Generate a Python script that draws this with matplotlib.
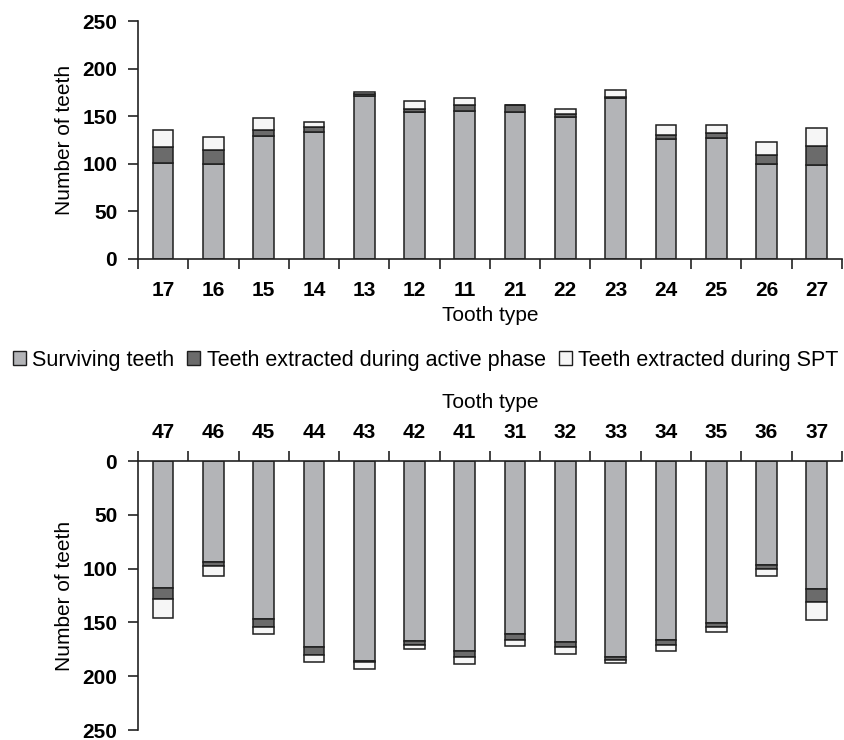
from matplotlib import pyplot as plt
from matplotlib.patches import Patch
import numpy as np

plt.rcParams['font.family'] = ['Liberation Sans', 'DejaVu Sans']

# maxilla (upper jaw)
upper_teeth = ['17', '16', '15', '14', '13', '12', '11', '21', '22', '23', '24', '25', '26', '27']
upper_surviving = [101, 100, 129, 133, 171, 154, 155, 154, 149, 169, 126, 127, 100, 99]
upper_active = [17, 14, 7, 6, 2, 4, 7, 8, 3, 1, 4, 5, 9, 20]
upper_spt = [17, 14, 12, 5, 2, 8, 7, 0, 6, 8, 11, 9, 14, 19]

# mandible (lower jaw)
lower_teeth = ['47', '46', '45', '44', '43', '42', '41', '31', '32', '33', '34', '35', '36', '37']
lower_surviving = [118, 94, 147, 173, 186, 167, 177, 161, 168, 182, 166, 151, 97, 119]
lower_active = [10, 4, 7, 7, 1, 4, 5, 5, 5, 3, 5, 3, 3, 12]
lower_spt = [18, 9, 7, 7, 6, 4, 7, 6, 6, 3, 6, 5, 7, 17]

series_names = ['Surviving teeth', 'Teeth extracted during active phase', 'Teeth extracted during SPT']
colores = ['#b3b4b7', '#6b6b6b', '#f6f6f6']
borde = '#1e1e1e'


def stacked(ax, teeth, surv, act, spt, xpad, lpad):
    x = np.arange(len(teeth))
    surv = np.array(surv)
    act = np.array(act)
    spt = np.array(spt)
    kw = dict(width=0.41, edgecolor=borde, linewidth=1.1)
    ax.bar(x, surv, color=colores[0], **kw)
    ax.bar(x, act, bottom=surv, color=colores[1], **kw)
    ax.bar(x, spt, bottom=surv + act, color=colores[2], **kw)
    ax.set_xlim(-0.5, len(teeth) - 0.5)
    ax.set_ylim(0, 250)
    ax.set_yticks([0, 50, 100, 150, 200, 250])
    ax.set_xticks(x)
    ax.set_xticklabels(teeth, fontsize=15, fontweight='bold')
    ax.set_xticks(np.arange(len(teeth) + 1) - 0.5, minor=True)
    ax.tick_params(axis='x', which='major', length=0, pad=xpad)
    ax.tick_params(axis='x', which='minor', length=7, width=1.2, color='#222222')
    ax.tick_params(axis='y', length=7, width=1.2, color='#222222', pad=8)
    for lbl in ax.get_yticklabels():
        lbl.set_fontsize(15)
        lbl.set_fontweight('bold')
    ax.spines['right'].set_visible(False)
    for s in ['left', 'bottom', 'top']:
        ax.spines[s].set_linewidth(1.2)
        ax.spines[s].set_color('#222222')
    ax.set_ylabel('Number of teeth', fontsize=15, labelpad=6)
    ax.set_xlabel('Tooth type', fontsize=15, labelpad=lpad)


fig = plt.figure(figsize=(8.44, 7.4), dpi=100)

ax1 = fig.add_axes([0.1635, 0.65, 0.834, 0.3216])
stacked(ax1, upper_teeth, upper_surviving, upper_active, upper_spt, 16, 4)
ax1.spines['top'].set_visible(False)

ax2 = fig.add_axes([0.1635, 0.0135, 0.834, 0.3635])
stacked(ax2, lower_teeth, lower_surviving, lower_active, lower_spt, 13.5, 11)
ax2.invert_yaxis()
ax2.spines['bottom'].set_visible(False)
ax2.xaxis.tick_top()
ax2.xaxis.set_label_position('top')

handles = [Patch(facecolor=c, edgecolor=borde, linewidth=1) for c in colores]
fig.legend(handles, series_names, loc='center left', bbox_to_anchor=(0.0154, 0.513),
           ncol=3, frameon=False, fontsize=15.5, handlelength=0.6, handleheight=0.6,
           handletextpad=0.3, columnspacing=0.6, borderpad=0, borderaxespad=0)

plt.savefig('out.png', dpi=100)
